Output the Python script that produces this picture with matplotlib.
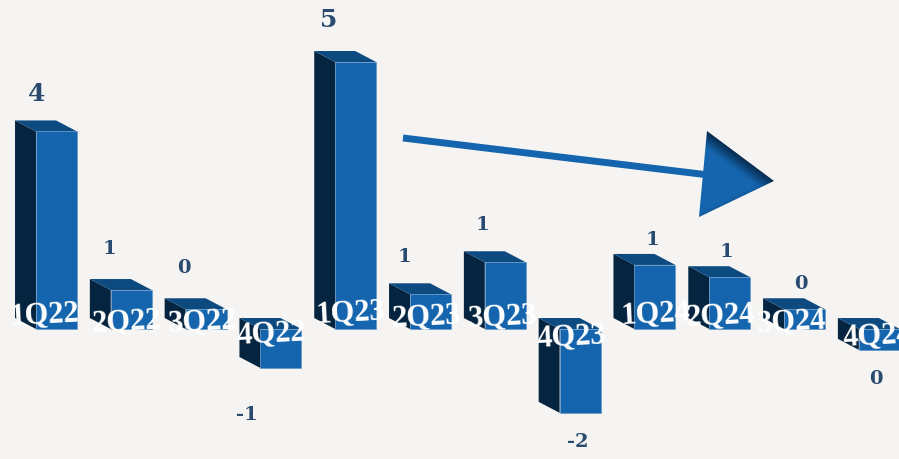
import numpy as np
import matplotlib
matplotlib.use('Agg')
import matplotlib.pyplot as plt
from matplotlib.patches import Polygon

quarters = ['1Q22', '2Q22', '3Q22', '4Q22', '1Q23', '2Q23',
            '3Q23', '4Q23', '1Q24', '2Q24', '3Q24', '4Q24']
bar_values = [3.7, 0.73, 0.37, -0.73, 5.0, 0.65, 1.25, -1.57, 1.2, 0.97, 0.37, -0.39]
value_labels = ['4', '1', '0', '-1', '5', '1', '1', '-2', '1', '1', '0', '0']

# layout only: pixel offsets of the labels from each bar
quarter_dx = [-12, -5, -3, -9, -5, -4, -3, -9, 1, -9, -13, -2]
quarter_y = [0.26, 0.13, 0.13, -0.09, 0.30, 0.22, 0.22, -0.15, 0.28, 0.24, 0.13, -0.13]
label_dx = [-20, -22, -22, -34, -27, -26, -23, -2, -2, -3, -4, -3]
label_dy = [37, 41, 41, -47, 42, 37, 37, -29, 25, 25, 25, -29]

BG = '#f5f4f2'
FRONT = '#1565ae'
SIDE = '#05243f'
TOP = '#0c4a80'
TEXT = '#2b4a6f'
WIDTH = 0.548
DX, DY = -0.28, 0.206

plt.rcParams['font.family'] = ['Liberation Serif', 'DejaVu Serif']

fig = plt.figure(figsize=(8.99, 4.59), dpi=100, facecolor=BG)
ax = fig.add_axes([0, 0, 1, 1])
ax.set_xlim(-0.755, 11.263)
ax.set_ylim(-2.434, 6.161)
ax.axis('off')

xs = np.arange(len(bar_values))
ax.bar(xs, bar_values, width=WIDTH, color=FRONT, edgecolor='#5d93c4', linewidth=0.4, zorder=3)

for x, v in zip(xs, bar_values):
    x0, x1 = x - WIDTH / 2, x + WIDTH / 2
    hi, lo = max(v, 0), min(v, 0)
    ax.add_patch(Polygon([(x0, lo), (x0, hi), (x0 + DX, hi + DY), (x0 + DX, lo + DY)],
                         facecolor=SIDE, edgecolor='none', zorder=2))
    ax.add_patch(Polygon([(x0, hi), (x1, hi), (x1 + DX, hi + DY), (x0 + DX, hi + DY)],
                         facecolor=TOP, edgecolor='none', zorder=2))

for i, q in enumerate(quarters):
    ax.annotate(q, (xs[i], quarter_y[i]), xytext=(quarter_dx[i], 0), textcoords='offset pixels',
                color='white', fontsize=22, fontweight='bold', rotation=3,
                ha='center', va='center', zorder=5, annotation_clip=False)

for i, lab in enumerate(value_labels):
    big = lab in ('4', '5')
    anchor = max(bar_values[i], 0) if label_dy[i] > 0 else min(bar_values[i], 0)
    ax.annotate(lab, (xs[i], anchor), xytext=(label_dx[i], label_dy[i]), textcoords='offset pixels',
                color=TEXT, fontsize=18 if big else 14, fontweight='bold', family='DejaVu Serif',
                ha='center', va='center', zorder=5)

# trend arrow
ax.plot([4.632, 8.72], [3.577, 2.884], color=FRONT, lw=5, solid_capstyle='butt', zorder=4)
head = np.array([[8.696, 3.708], [9.592, 2.772], [8.589, 2.097]])
patch = Polygon(head, facecolor='none', edgecolor='none', zorder=4)
ax.add_patch(patch)

gx, gy = np.meshgrid(np.linspace(8.55, 9.62, 160), np.linspace(2.05, 3.75, 160))
def edge_dist(a, b):
    # distance to one head edge, in pixels
    ax_px, ay_px = a[0] * 74.8, a[1] * 53.4
    bx_px, by_px = b[0] * 74.8, b[1] * 53.4
    nx, ny = by_px - ay_px, -(bx_px - ax_px)
    n = np.hypot(nx, ny)
    return np.abs((gx * 74.8 - ax_px) * nx + (gy * 53.4 - ay_px) * ny) / n

upper = np.clip(edge_dist(head[0], head[1]) / 14, 0, 1)
lower = np.clip(edge_dist(head[2], head[1]) / 4, 0, 1)
shade = np.minimum(upper, 0.75 + 0.25 * lower)[..., None]
dark = np.array(matplotlib.colors.to_rgb('#062a4d'))
blue = np.array(matplotlib.colors.to_rgb(FRONT))
img = ax.imshow(dark + (blue - dark) * shade, origin='lower', aspect='auto',
                extent=(8.55, 9.62, 2.05, 3.75), zorder=4, interpolation='bilinear')
img.set_clip_path(patch)
ax.set_xlim(-0.755, 11.263)
ax.set_ylim(-2.434, 6.161)

fig.savefig('out.png', dpi=100, facecolor=BG)
